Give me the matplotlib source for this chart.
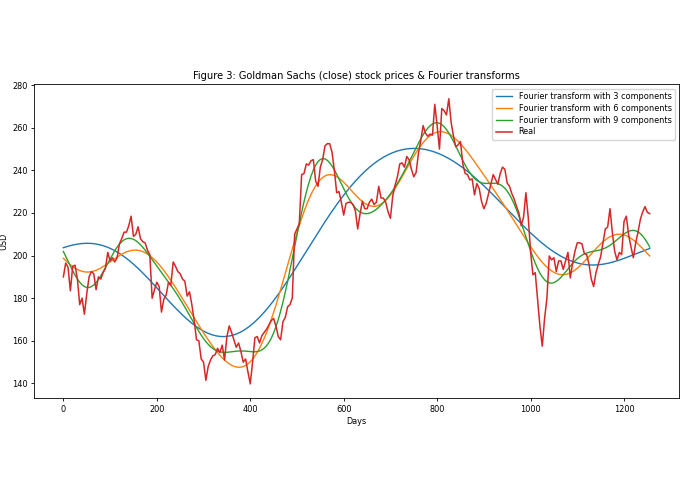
import numpy as np
import matplotlib
matplotlib.use("Agg")
import matplotlib.pyplot as plt

# closing price, one value every 5 days (day 0 .. 1255)
step = 5
close = [
    190.0, 196.5, 194.5, 183.5, 195.0, 195.5, 189.0, 177.0, 180.0, 172.5,
    182.0, 190.0, 192.5, 191.5, 184.0, 190.0, 189.0, 192.0, 194.0, 201.5,
    197.5, 199.0, 197.0, 199.0, 205.5, 208.0, 211.0, 211.0, 214.0, 218.5,
    209.0, 210.0, 213.5, 208.0, 206.5, 206.0, 202.5, 200.5, 180.0, 184.0,
    187.5, 185.5, 173.5, 179.5, 181.5, 187.5, 186.0, 197.0, 195.0, 192.5,
    191.5, 189.0, 188.0, 181.0, 183.0, 177.0, 169.5, 160.5, 160.0, 151.5,
    150.0, 141.5, 148.0, 151.0, 153.0, 153.5, 156.5, 154.5, 158.0, 151.0,
    162.0, 167.0, 164.0, 160.5, 157.0, 159.0, 155.0, 150.0, 151.5, 145.5,
    139.8, 150.0, 161.5, 162.0, 159.0, 162.5, 164.0, 165.5, 167.5, 169.5,
    170.5, 167.0, 162.0, 160.5, 169.0, 171.0, 176.0, 177.0, 180.0, 210.0,
    212.5, 215.0, 238.0, 238.5, 243.0, 242.5, 244.5, 245.0, 235.0, 232.5,
    241.5, 245.0, 251.5, 252.5, 252.5, 248.5, 240.0, 229.5, 230.0, 225.0,
    219.0, 224.5, 225.0, 225.0, 224.0, 221.0, 212.5, 219.5, 225.5, 222.0,
    222.0, 225.0, 226.5, 224.0, 225.0, 232.5, 227.0, 227.0, 225.0, 220.5,
    217.5, 228.0, 233.0, 237.0, 243.0, 243.5, 241.5, 246.5, 245.0, 240.5,
    237.0, 239.0, 248.0, 254.0, 261.0, 257.5, 256.0, 257.0, 256.5, 271.0,
    261.0, 250.0, 269.0, 268.0, 266.0, 273.6, 262.5, 256.0, 251.0, 252.0,
    253.5, 243.0, 238.5, 238.0, 235.5, 236.0, 228.5, 233.8, 231.5, 225.5,
    222.0, 224.5, 229.0, 233.5, 238.0, 235.8, 233.5, 238.5, 241.5, 240.5,
    234.0, 232.5, 229.0, 226.5, 223.0, 220.0, 214.0, 218.0, 229.5, 218.0,
    202.0, 191.0, 192.0, 179.5, 167.0, 157.5, 170.5, 180.0, 199.8, 198.0,
    199.0, 192.5, 197.5, 197.5, 193.5, 197.5, 201.5, 189.5, 196.5, 202.0,
    206.0, 206.0, 205.5, 201.0, 200.5, 196.0, 189.0, 185.5, 192.0, 196.0,
    199.5, 206.0, 212.5, 213.4, 222.0, 211.0, 202.0, 198.0, 201.5, 200.5,
    216.0, 218.5, 209.5, 204.0, 199.0, 206.0, 211.0, 217.0, 220.5, 223.0,
    220.3, 219.7,
]
components = [3, 6, 9]

close = np.array(close)
days = np.arange(len(close)) * step

fig = plt.figure(figsize=(6.95, 4.94), dpi=100)
ax = fig.add_axes([0.049, 0.194, 0.928, 0.635])

# keep only the lowest frequencies, same as fft[n:-n] = 0
fft_list = np.fft.fft(close)
for n in components:
    fft_cut = np.copy(fft_list)
    fft_cut[n:-n] = 0
    ax.plot(days, np.real(np.fft.ifft(fft_cut)), lw=1.0,
            label="Fourier transform with {} components".format(n))
ax.plot(days, close, lw=1.1, label="Real")

fs = 5.9
ax.set_xlabel("Days", fontsize=fs, labelpad=2.5)
ax.set_ylabel("USD", fontsize=fs, labelpad=2.5)
ax.set_title("Figure 3: Goldman Sachs (close) stock prices & Fourier transforms",
             fontsize=7.1, pad=4)
ax.tick_params(labelsize=fs, length=2.4, width=0.6, pad=2.2)
for s in ax.spines.values():
    s.set_linewidth(0.6)
ax.legend(fontsize=fs, handlelength=2.0, borderpad=0.4, labelspacing=0.35)

fig.savefig("out.png", dpi=100)
